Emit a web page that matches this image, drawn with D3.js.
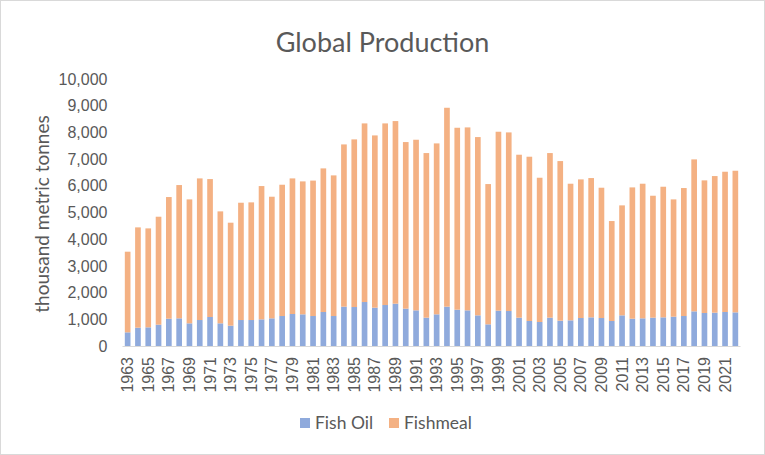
<!DOCTYPE html>
<html><head><meta charset="utf-8">
<script src="https://cdn.jsdelivr.net/npm/d3@7"></script>
<style>body{margin:0;background:#fff;} svg{display:block;font-family:Lato,"Open Sans",sans-serif;}</style>
</head><body>
<svg id="c" width="765" height="455"></svg>
<script>
const years = d3.range(1963, 2023).map(String);
const fishOil = [512,686,699,799,1023,1036,849,973,1086,849,761,973,973,998,1036,1123,1198,1186,1123,
 1273,1123,1473,1460,1647,1435,1535,1585,1398,1335,1061,1186,1473,1360,1335,1148,811,1323,1310,1061,936,
 899,1061,948,961,1048,1073,1048,936,1148,1023,1036,1061,1073,1098,1123,1298,1236,1248,1273,1260];
const totals = [3532,4443,4405,4842,5579,6028,5491,6277,6252,5042,4618,5366,5379,5990,5591,6040,6277,6165,6195,
 6652,6390,7550,7738,8337,7887,8337,8424,7638,7725,7226,7588,8923,8174,8187,7825,6065,8025,8000,7164,7089,
 6302,7226,6926,6078,6240,6290,5928,4680,5267,5940,6078,5628,5965,5491,5916,6989,6203,6365,6527,6564];
const fishmeal = totals.map((t,i)=>t - fishOil[i]);
const yTicks = d3.range(0, 10001, 1000);
const seriesNames = ["Fish Oil","Fishmeal"];
const colors = ["#8FAADC","#F4B183"];

const svg = d3.select("#c");
svg.append("rect").attr("x",0.5).attr("y",0.5).attr("width",764).attr("height",454)
  .attr("fill","#fff").attr("stroke","#D9D9D9");

const m = {l:122.5, r:740.5, t:79, b:346};
const x = d3.scaleBand().domain(years).range([m.l, m.r]).paddingInner(0.45).paddingOuter(0.225);
const y = d3.scaleLinear().domain([0,10000]).range([m.b, m.t]);

const data = years.map((yr,i)=>({year:yr, "Fish Oil":fishOil[i], "Fishmeal":fishmeal[i]}));
const stack = d3.stack().keys(seriesNames)(data);

svg.append("g").selectAll("g").data(stack).join("g")
  .attr("fill",(d,i)=>colors[i])
  .selectAll("rect").data(d=>d).join("rect")
  .attr("x",d=>x(d.data.year)).attr("width",x.bandwidth())
  .attr("y",d=>y(d[1])).attr("height",d=>y(d[0])-y(d[1]));

// baseline
svg.append("line").attr("x1",m.l).attr("x2",m.r).attr("y1",m.b+0.5).attr("y2",m.b+0.5)
  .attr("stroke","#D9D9D9").attr("stroke-width",1);

// y axis
const ya = svg.append("g").attr("transform",`translate(${m.l},0)`)
  .call(d3.axisLeft(y).tickValues(yTicks).tickFormat(d3.format(",")).tickSize(0).tickPadding(15));
ya.select(".domain").remove();
ya.selectAll("text").attr("fill","#595959").style("font-size","16px");

// x axis
const xa = svg.append("g").attr("transform",`translate(0,${m.b})`)
  .call(d3.axisBottom(x).tickValues(years.filter((d,i)=>i%2===0)).tickSize(0));
xa.select(".domain").remove();
xa.selectAll("text").attr("fill","#595959").style("font-size","16px")
  .attr("text-anchor","end").attr("transform","rotate(-90)")
  .attr("x",-11).attr("y",0).attr("dy","0.35em");

// title
svg.append("text").attr("x",382.5).attr("y",52).attr("text-anchor","middle")
  .attr("fill","#595959").style("font-size","27px").text("Global Production");

// y title
svg.append("text").attr("transform","translate(49,214) rotate(-90)").attr("text-anchor","middle")
  .attr("fill","#595959").style("font-size","19px").text("thousand metric tonnes");

// legend
const lg = svg.append("g");
const lx = [300, 389];
seriesNames.forEach((n,i)=>{
  lg.append("rect").attr("x",lx[i]).attr("y",418).attr("width",10).attr("height",10).attr("fill",colors[i]);
  lg.append("text").attr("x",lx[i]+15).attr("y",429).attr("fill","#595959").style("font-size","17.5px").text(n);
});
</script>
</body></html>
